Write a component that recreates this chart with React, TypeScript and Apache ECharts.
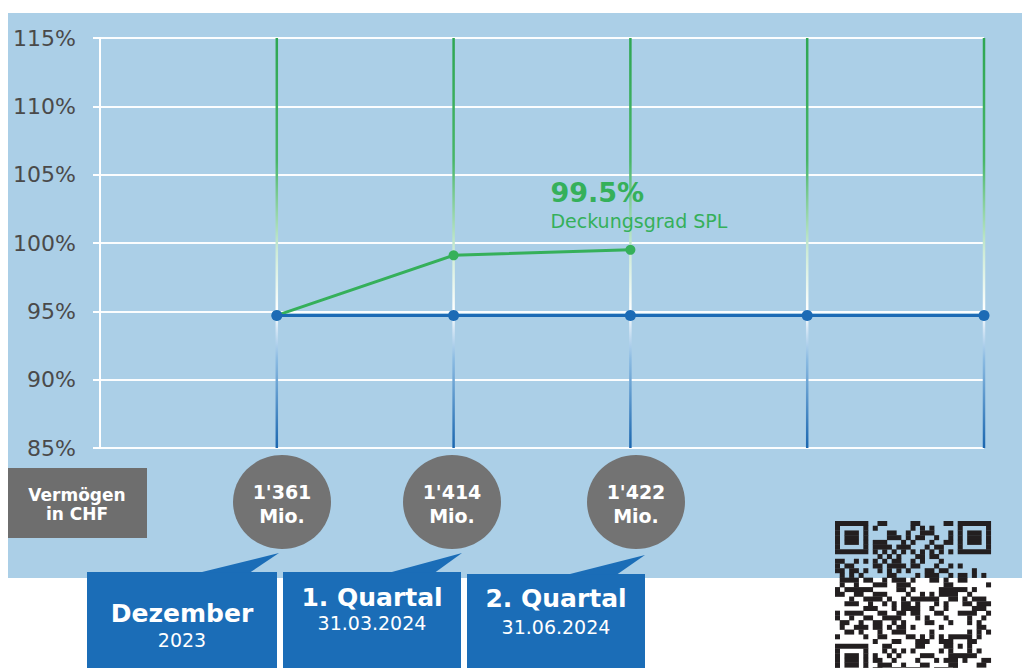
import React, { useEffect, useRef } from "react";
import * as echarts from "echarts";

// ---- data ----
const categories = ["", "Dezember 2023", "1. Quartal 2024", "2. Quartal 2024", "3. Quartal 2024", "4. Quartal 2024"];
const zielLinie = [null, 94.7, 94.7, 94.7, 94.7, 94.7];
const deckungsgrad = [null, 94.7, 99.1, 99.5, null, null];
const yTicks = [85, 90, 95, 100, 105, 110, 115];
const assetValues = ["1'361", "1'414", "1'422"];
const assetUnit = "Mio.";
const periodTitles = ["Dezember", "1. Quartal", "2. Quartal"];
const periodSubs = ["2023", "31.03.2024", "31.06.2024"];
const seriesName = "Deckungsgrad SPL";
const assetLabel = ["Vermögen", "in CHF"];

// ---- layout / style ----
const FONT = '"DejaVu Sans", Verdana, sans-serif';
const BG = "#abcfe7";
const GREEN = "#35b05a";
const BLUE = "#1c6bb5";
const BOX_BLUE = "#1b6db7";
const GREY = "#737373";

const circles = [
  { cx: 282, cy: 502 },
  { cx: 452, cy: 502 },
  { cx: 636, cy: 502 },
];
const boxes = [
  { x: 87, w: 190, top: 572, tip: [279, 553], bl: 200, br: 250, tx: 182, t1: 613, t2: 640 },
  { x: 283, w: 178, top: 572, tip: [462, 553], bl: 390, br: 435, tx: 372, t1: 597, t2: 623 },
  { x: 467, w: 178, top: 574, tip: [645, 555], bl: 568, br: 617, tx: 556, t1: 598, t2: 627 },
];

function qrDark(r: number, c: number): boolean {
  const N = 33;
  const finders = [
    [0, 0],
    [0, N - 7],
    [N - 7, 0],
  ];
  for (const [r0, c0] of finders) {
    const dr = r - r0;
    const dc = c - c0;
    if (dr >= 0 && dr <= 6 && dc >= 0 && dc <= 6) {
      return dr === 0 || dr === 6 || dc === 0 || dc === 6 || (dr >= 2 && dr <= 4 && dc >= 2 && dc <= 4);
    }
    if (dr >= -1 && dr <= 7 && dc >= -1 && dc <= 7) return false;
  }
  const ar = r - 26;
  const ac = c - 26;
  if (Math.abs(ar) <= 2 && Math.abs(ac) <= 2) return Math.max(Math.abs(ar), Math.abs(ac)) !== 1;
  if (r === 6) return c % 2 === 0;
  if (c === 6) return r % 2 === 0;
  const h = ((r * 131 + c * 71) ^ (r * c * 29 + 7)) % 9;
  return h < 4;
}

function buildQR(): any[] {
  const x0 = 835;
  const y0 = 521;
  const m = 4.72;
  const els: any[] = [];
  for (let r = 0; r < 33; r++) {
    const y = y0 + r * m;
    if (y > 668) break;
    let c = 0;
    while (c < 33) {
      if (qrDark(r, c)) {
        let e = c;
        while (e + 1 < 33 && qrDark(r, e + 1)) e++;
        els.push({
          type: "rect",
          shape: { x: x0 + c * m, y, width: (e - c + 1) * m + 0.3, height: m + 0.3 },
          style: { fill: "#231f20" },
          z: 100,
          silent: true,
        });
        c = e + 1;
      } else c++;
    }
  }
  return els;
}

export default function App() {
  const ref = useRef<HTMLDivElement>(null);
  useEffect(() => {
    document.body.style.margin = "0";
    if (!ref.current) return;
    const chart = echarts.init(ref.current, undefined, { renderer: "svg" });

    const graphics: any[] = [];
    graphics.push({
      type: "rect",
      shape: { x: 8, y: 13, width: 1014, height: 565 },
      style: { fill: BG },
      z: -100,
      silent: true,
    });
    graphics.push({
      type: "rect",
      shape: { x: 8, y: 468, width: 139, height: 70 },
      style: { fill: "#6e6e6e" },
      z: 100,
    });
    assetLabel.forEach((t, i) =>
      graphics.push({
        type: "text",
        z: 101,
        style: {
          text: t,
          x: 77,
          y: 495 + i * 19,
          fill: "#ffffff",
          fontSize: 17,
          fontWeight: "bold",
          fontFamily: FONT,
          align: "center",
          verticalAlign: "middle",
        },
      })
    );
    circles.forEach((p, i) => {
      graphics.push({
        type: "ellipse",
        shape: { cx: p.cx, cy: p.cy, rx: 49, ry: 47 },
        style: { fill: GREY },
        z: 100,
      });
      graphics.push({
        type: "text",
        z: 101,
        style: {
          text: assetValues[i],
          x: p.cx,
          y: p.cy - 10,
          fill: "#ffffff",
          fontSize: 19,
          fontWeight: "bold",
          fontFamily: FONT,
          align: "center",
          verticalAlign: "middle",
        },
      });
      graphics.push({
        type: "text",
        z: 101,
        style: {
          text: assetUnit,
          x: p.cx,
          y: p.cy + 14,
          fill: "#ffffff",
          fontSize: 19,
          fontWeight: "bold",
          fontFamily: FONT,
          align: "center",
          verticalAlign: "middle",
        },
      });
    });
    boxes.forEach((b, i) => {
      graphics.push({
        type: "rect",
        shape: { x: b.x, y: b.top, width: b.w, height: 668 - b.top },
        style: { fill: BOX_BLUE },
        z: 100,
      });
      graphics.push({
        type: "polygon",
        shape: { points: [[b.bl, b.top + 0.5], b.tip, [b.br, b.top + 0.5]] },
        style: { fill: BOX_BLUE },
        z: 100,
      });
      graphics.push({
        type: "text",
        z: 101,
        style: {
          text: periodTitles[i],
          x: b.tx,
          y: b.t1,
          fill: "#ffffff",
          fontSize: 25,
          fontWeight: "bold",
          fontFamily: FONT,
          align: "center",
          verticalAlign: "middle",
        },
      });
      graphics.push({
        type: "text",
        z: 101,
        style: {
          text: periodSubs[i],
          x: b.tx,
          y: b.t2,
          fill: "#ffffff",
          fontSize: 19,
          fontFamily: FONT,
          align: "center",
          verticalAlign: "middle",
        },
      });
    });
    graphics.push(...buildQR());

    const yMin = yTicks[0];
    const yMax = yTicks[yTicks.length - 1];
    const yMid = 95;

    chart.setOption({
      animation: false,
      grid: { left: 100, right: 38, top: 38, bottom: 220, containLabel: false },
      xAxis: {
        type: "category",
        data: categories,
        boundaryGap: false,
        axisLine: { show: false },
        axisTick: { show: false },
        axisLabel: { show: false },
        splitLine: { show: false },
      },
      yAxis: {
        type: "value",
        min: yMin,
        max: yMax,
        interval: yTicks[1] - yTicks[0],
        axisLine: { show: true, lineStyle: { color: "#ffffff", width: 2 } },
        axisTick: { show: true, length: 7, lineStyle: { color: "#ffffff", width: 2 } },
        axisLabel: {
          formatter: "{value}%",
          fontSize: 22,
          fontFamily: FONT,
          color: "#4a4a4a",
          margin: 24,
        },
        splitLine: { show: true, lineStyle: { color: "#ffffff", width: 2, opacity: 0.95 } },
      },
      graphic: graphics,
      series: [
        {
          type: "custom",
          z: 1,
          silent: true,
          data: categories.map((c, i) => [i, yMax]).slice(1),
          encode: { x: 0, y: 1 },
          renderItem: (params: any, api: any) => {
            const idx = api.value(0);
            const top = api.coord([idx, yMax]);
            const mid = api.coord([idx, yMid]);
            const bot = api.coord([idx, yMin]);
            return {
              type: "group",
              children: [
                {
                  type: "rect",
                  shape: { x: top[0] - 1.25, y: top[1], width: 2.5, height: mid[1] - top[1] },
                  style: {
                    fill: new echarts.graphic.LinearGradient(0, 0, 0, 1, [
                      { offset: 0, color: "#2ea653" },
                      { offset: 0.45, color: "#48b668" },
                      { offset: 0.78, color: "#cdebd6" },
                      { offset: 1, color: "#ffffff" },
                    ]),
                  },
                },
                {
                  type: "rect",
                  shape: { x: mid[0] - 1.25, y: mid[1], width: 2.5, height: bot[1] - mid[1] },
                  style: {
                    fill: new echarts.graphic.LinearGradient(0, 0, 0, 1, [
                      { offset: 0, color: "#ffffff" },
                      { offset: 0.35, color: "#8bbbe2" },
                      { offset: 1, color: "#1a66af" },
                    ]),
                  },
                },
              ],
            };
          },
        },
        {
          name: seriesName,
          type: "line",
          z: 3,
          data: deckungsgrad,
          symbol: "circle",
          symbolSize: 10,
          lineStyle: { color: GREEN, width: 3 },
          itemStyle: { color: GREEN },
          label: {
            show: true,
            position: [-75, -68],
            align: "left",
            verticalAlign: "top",
            formatter: (p: any) =>
              p.dataIndex === 3 ? `{a|${p.value}%}\n{b|${seriesName}}` : "",
            rich: {
              a: { fontSize: 27, fontWeight: "bold", color: GREEN, fontFamily: FONT, lineHeight: 31 },
              b: { fontSize: 19, color: GREEN, fontFamily: FONT, lineHeight: 26 },
            },
          },
        },
        {
          name: "Basis",
          type: "line",
          z: 4,
          data: zielLinie,
          symbol: "circle",
          symbolSize: 11,
          lineStyle: { color: BLUE, width: 3 },
          itemStyle: { color: BLUE },
        },
      ],
    });
    return () => chart.dispose();
  }, []);
  return <div ref={ref} style={{ width: 1022, height: 668 }} />;
}
